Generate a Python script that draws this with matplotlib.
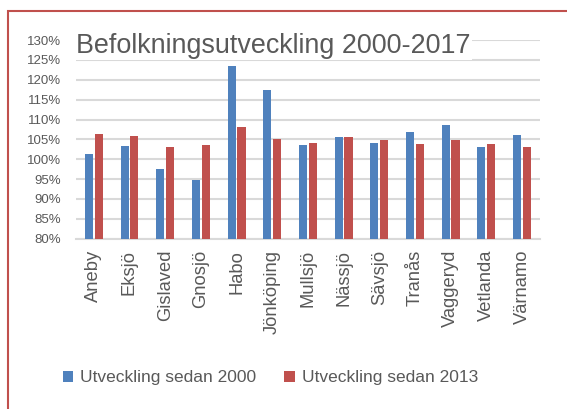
import numpy as np
import matplotlib.pyplot as plt
from matplotlib.patches import Rectangle
from matplotlib.ticker import PercentFormatter

kommuner = ['Aneby', 'Eksjö', 'Gislaved', 'Gnosjö', 'Habo', 'Jönköping', 'Mullsjö',
            'Nässjö', 'Sävsjö', 'Tranås', 'Vaggeryd', 'Vetlanda', 'Värnamo']
sedan_2000 = [101.3, 103.3, 97.5, 94.7, 123.6, 117.4, 103.6, 105.6, 104.0, 106.8, 108.6, 103.0, 106.0]
sedan_2013 = [106.3, 105.8, 103.1, 103.5, 108.0, 105.1, 104.1, 105.6, 104.8, 103.8, 104.8, 103.8, 103.2]

plt.rcParams['font.family'] = ['Liberation Sans', 'DejaVu Sans']
grey = '#595959'

fig = plt.figure(figsize=(5.67, 4.09), dpi=100)
ax = fig.add_axes([0.134, 0.4164, 0.818, 0.4856])

x = np.arange(len(kommuner))
w = 0.23
ax.bar(x - 0.137, np.array(sedan_2000) - 80, w, bottom=80, color='#4f81bd',
       label='Utveckling sedan 2000', zorder=3)
ax.bar(x + 0.137, np.array(sedan_2013) - 80, w, bottom=80, color='#c0504d',
       label='Utveckling sedan 2013', zorder=3)

ax.set_xlim(-0.5, len(kommuner) - 0.5)
ax.set_ylim(80, 130)
ax.set_yticks(np.arange(80, 131, 5))
ax.yaxis.set_major_formatter(PercentFormatter(decimals=0))
ax.grid(axis='y', color='#d9d9d9', linewidth=1.5, zorder=0)
for s in ['top', 'right', 'left']:
    ax.spines[s].set_visible(False)
ax.spines['bottom'].set_color('#d9d9d9')
ax.spines['bottom'].set_linewidth(1.5)
ax.tick_params(axis='y', length=0, labelsize=9.5, labelcolor=grey, pad=10.5)
ax.tick_params(axis='x', length=0, labelsize=13.2, labelcolor=grey, pad=8)
ax.set_xticks(x)
ax.set_xticklabels(kommuner, rotation=90)

# title sits inside the plot area, covering the top gridline
ax.text(-0.5, 128.6, 'Befolkningsutveckling 2000-2017', fontsize=19.4, color=grey,
        ha='left', va='center', zorder=5,
        bbox=dict(facecolor='white', edgecolor='none', pad=1))

fig.legend(loc='center', bbox_to_anchor=(0.477, 0.076), ncol=2, frameon=False,
           fontsize=12.5, handlelength=0.6, handleheight=0.6, handletextpad=0.4,
           columnspacing=1.6, labelcolor=grey)

fig.patches.append(Rectangle((8 / 567, -0.1), 1.2, (409 - 11) / 409 + 0.1,
                             transform=fig.transFigure, fill=False,
                             edgecolor='#c0504d', linewidth=1.5))

fig.savefig('out.png', dpi=100)
